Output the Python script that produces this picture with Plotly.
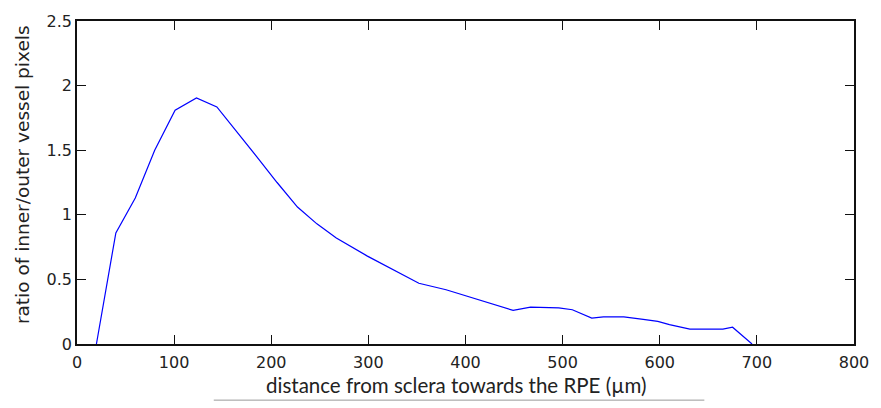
import plotly.graph_objects as go

distance_um = [20, 40, 60, 80, 101, 123, 144, 165, 185, 206, 227, 247, 267, 299, 352,
               380, 449, 467, 496, 510, 530, 542, 563, 583, 598, 610, 631, 665, 675, 695]
ratio = [0, 0.86, 1.13, 1.5, 1.81, 1.905, 1.835, 1.64, 1.45, 1.25, 1.06, 0.93, 0.82, 0.68, 0.47,
         0.42, 0.26, 0.285, 0.28, 0.265, 0.2, 0.21, 0.21, 0.19, 0.175, 0.15, 0.115, 0.115, 0.13, 0]

x_title = "distance from sclera towards the RPE (\u00b5m)"
y_title = "ratio of inner/outer vessel pixels"

fig = go.Figure()
fig.add_trace(go.Scatter(x=distance_um, y=ratio, mode="lines",
                         line=dict(color="#0000ff", width=1.2), hoverinfo="skip"))

axis_common = dict(showgrid=False, zeroline=False, showline=True, linecolor="#111",
                   linewidth=1.5, mirror="ticks", ticks="inside", ticklen=9,
                   tickwidth=1.3, tickcolor="#111",
                   tickfont=dict(family="DejaVu Sans", size=16, color="#222"))

fig.update_layout(
    width=881, height=408,
    margin=dict(l=77, r=20, t=16, b=64),
    paper_bgcolor="white", plot_bgcolor="white",
    showlegend=False,
    xaxis=dict(range=[0, 800], dtick=100, tick0=0, ticklabelstandoff=3, **axis_common),
    yaxis=dict(range=[0, 2.5], dtick=0.5, tick0=0, **axis_common),
    annotations=[
        dict(text=x_title, xref="paper", yref="paper", x=(459 - 77) / 784, y=-(386 - 344) / 328,
             xanchor="center", yanchor="middle", showarrow=False,
             font=dict(family="Lato, Open Sans", size=20.5, color="#222")),
        dict(text=y_title, xref="paper", yref="paper", x=-(77 - 22) / 784, y=(344 - 172) / 328,
             xanchor="center", yanchor="middle", showarrow=False, textangle=-90,
             font=dict(family="DejaVu Sans", size=18.5, color="#222")),
    ],
    shapes=[
        dict(type="line", xref="paper", yref="paper",
             x0=(215 - 77) / 784, x1=(710 - 77) / 784,
             y0=-(401 - 344) / 328, y1=-(401 - 344) / 328,
             line=dict(color="#999", width=1)),
    ],
)

fig.write_html("out.html")
